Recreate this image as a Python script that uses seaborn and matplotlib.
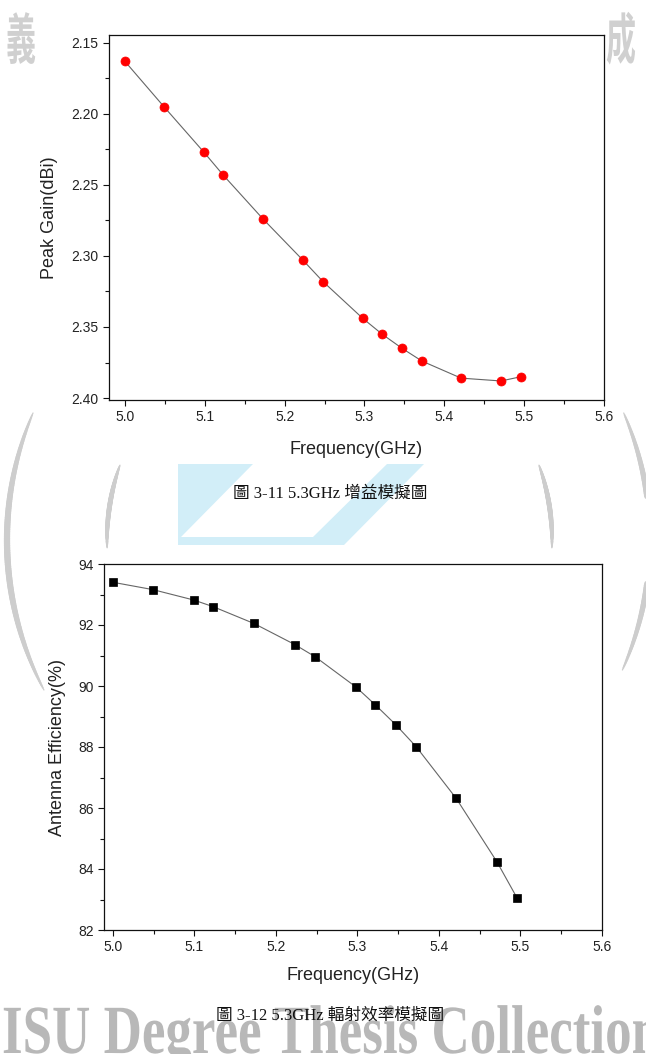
import numpy as np
import pandas as pd
import seaborn as sns
import matplotlib.pyplot as plt
from matplotlib.ticker import MultipleLocator, FormatStrFormatter
from matplotlib.patches import Polygon, PathPatch
from matplotlib.textpath import TextPath
from matplotlib.font_manager import FontProperties
from matplotlib.transforms import Affine2D
from matplotlib.collections import LineCollection

# Data
freq = [5.0, 5.049, 5.099, 5.123, 5.173, 5.223, 5.248, 5.298, 5.322, 5.347, 5.372, 5.421, 5.471, 5.496]
peak_gain = [2.163, 2.195, 2.227, 2.243, 2.274, 2.303, 2.318, 2.344, 2.355, 2.365, 2.374, 2.386, 2.388, 2.385]
efficiency = [93.40, 93.16, 92.82, 92.60, 92.05, 91.36, 90.96, 89.97, 89.38, 88.73, 88.01, 86.32, 84.24, 83.04]

freq_ticks = [5.0, 5.1, 5.2, 5.3, 5.4, 5.5, 5.6]
gain_ticks = [2.15, 2.20, 2.25, 2.30, 2.35, 2.40]
eff_ticks = [82, 84, 86, 88, 90, 92, 94]

caption_gain = "圖 3-11 5.3GHz 增益模擬圖"
caption_eff = "圖 3-12 5.3GHz 輻射效率模擬圖"
watermark = "ISU Degree Thesis Collection"

df = pd.DataFrame({"freq": freq, "gain": peak_gain, "eff": efficiency})

sns.set_style("ticks")
plt.rcParams["font.family"] = ["Liberation Sans", "DejaVu Sans"]

fig = plt.figure(figsize=(6.46, 10.54), dpi=100)
fig.patch.set_facecolor("white")

# background layer in pixel coordinates (watermark stuff)
bg = fig.add_axes([0, 0, 1, 1], zorder=0)
bg.set_xlim(0, 646)
bg.set_ylim(1054, 0)
bg.axis("off")


def arc(cx, cy, r, y0, y1, side, lw, color="#cdcdcd"):
    t = np.linspace(y0, y1, 120)
    x = cx + side * np.sqrt(r ** 2 - (t - cy) ** 2)
    pts = np.column_stack([x, t]).reshape(-1, 1, 2)
    segs = np.concatenate([pts[:-1], pts[1:]], axis=1)
    s = np.linspace(0, 1, len(segs))
    widths = lw * (0.2 + 0.8 * np.sin(np.pi * s) ** 0.6)
    bg.add_collection(LineCollection(segs, linewidths=widths, colors=color, capstyle="round"))


def stamp(s, x, y, sx, sy, family, weight, color):
    tp = TextPath((0, 0), s, size=1, prop=FontProperties(family=family, weight=weight))
    path = Affine2D().scale(sx, -sy).translate(x, y).transform_path(tp)
    bg.add_patch(PathPatch(path, fc=color, ec="none"))


arc(330, 540, 323, 413, 690, -1, 4.5)
arc(330, 540, 320, 413, 670, 1, 4.5)
arc(330, 540, 223, 465, 548, -1, 3.5)
arc(330, 540, 222, 465, 548, 1, 3.5)

bg.add_patch(Polygon([(178, 464), (424, 464), (344, 545), (178, 545)], closed=True, fc="#d2eef8", ec="none"))
bg.add_patch(Polygon([(253, 464), (387, 464), (313, 537), (181, 537)], closed=True, fc="white", ec="none"))

stamp("義", 6, 59, 30, 55, "Noto Sans CJK TC", "bold", "#d0d0d0")
stamp("成", 606, 59, 30, 55, "Noto Sans CJK TC", "bold", "#d0d0d0")
stamp(watermark, 2, 1053, 53, 69, "Liberation Serif", "bold", "#b8b8b8")


def style_axis(ax, xlim, ylim, yticks, ymajor_fmt, yminor):
    ax.set_facecolor("white")
    ax.set_xlim(*xlim)
    ax.set_ylim(*ylim)
    ax.set_xticks(freq_ticks)
    ax.xaxis.set_major_formatter(FormatStrFormatter("%.1f"))
    ax.xaxis.set_minor_locator(MultipleLocator(0.05))
    ax.set_yticks(yticks)
    ax.yaxis.set_major_formatter(FormatStrFormatter(ymajor_fmt))
    ax.yaxis.set_minor_locator(MultipleLocator(yminor))
    for sp in ax.spines.values():
        sp.set_visible(True)
        sp.set_linewidth(0.9)
        sp.set_color("#111111")
    ax.tick_params(which="both", direction="out", top=False, right=False,
                   color="#111111", width=0.8, labelsize=10, labelcolor="#222222")
    ax.tick_params(which="major", length=4)
    ax.tick_params(which="minor", length=3)


# top chart: peak gain
ax1 = fig.add_axes([109 / 646, 1 - 400 / 1054, 495 / 646, 365 / 1054], zorder=1)
sns.lineplot(data=df, x="freq", y="gain", ax=ax1, color="#666666", lw=0.8,
             marker="o", markersize=6.5, markerfacecolor="#ff0000",
             markeredgecolor="#ff0000", markeredgewidth=0.5)
style_axis(ax1, (4.98, 5.6), (2.4014, 2.1444), gain_ticks, "%.2f", 0.025)
ax1.set_xlabel("Frequency(GHz)", fontsize=13, color="#222222")
ax1.set_ylabel("Peak Gain(dBi)", fontsize=13, color="#222222")
ax1.xaxis.set_label_coords(0.5, -0.112)
ax1.yaxis.set_label_coords(-0.103, 0.5)

# bottom chart: antenna efficiency
ax2 = fig.add_axes([104 / 646, 1 - 930 / 1054, 498 / 646, 366 / 1054], zorder=1)
sns.lineplot(data=df, x="freq", y="eff", ax=ax2, color="#666666", lw=0.8,
             marker="s", markersize=5.8, markerfacecolor="black",
             markeredgecolor="black", markeredgewidth=0.5)
style_axis(ax2, (4.989, 5.6), (82, 94), eff_ticks, "%d", 1)
ax2.set_xlabel("Frequency(GHz)", fontsize=13, color="#222222")
ax2.set_ylabel("Antenna Efficiency(%)", fontsize=13, color="#222222")
ax2.xaxis.set_label_coords(0.5, -0.101)
ax2.yaxis.set_label_coords(-0.076, 0.5)

# captions
cap_font = ["Liberation Serif", "Noto Sans CJK TC"]
fig.text(330 / 646, 1 - 494 / 1054, caption_gain, ha="center", va="center",
         fontsize=12, family=cap_font, color="#111111", zorder=5)
fig.text(330 / 646, 1 - 1016 / 1054, caption_eff, ha="center", va="center",
         fontsize=12, family=cap_font, color="#111111", zorder=5)

plt.savefig("out.png", dpi=100, facecolor="white")
